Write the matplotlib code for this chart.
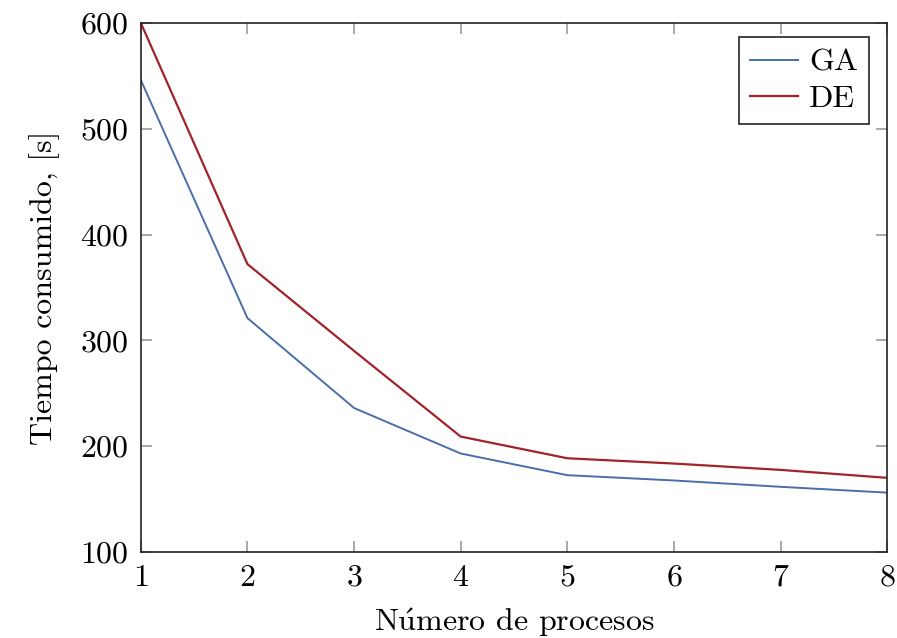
import matplotlib
matplotlib.use('Agg')
import matplotlib.pyplot as plt

procesos = [1, 2, 3, 4, 5, 6, 7, 8]
tiempo_ga = [546, 321, 236, 193, 172.5, 167.5, 161.5, 156]
tiempo_de = [600, 372, 290, 209, 188.5, 183.5, 177.5, 170]

plt.rcParams['font.family'] = ['cmr10', 'DejaVu Serif']
plt.rcParams['axes.formatter.use_mathtext'] = True
plt.rcParams['mathtext.fontset'] = 'cm'

fig = plt.figure(figsize=(8.97, 6.38), dpi=100)
ax = fig.add_axes([0.157, 0.135, 0.832, 0.829])

ax.plot(procesos, tiempo_ga, color='#4a6fa8', lw=1.4, label='GA')
ax.plot(procesos, tiempo_de, color='#a0242a', lw=1.6, label='DE')

ax.set_xlim(1, 8)
ax.set_ylim(100, 600)
ax.set_xticks(procesos)
ax.set_yticks([100, 200, 300, 400, 500, 600])
ax.tick_params(direction='in', length=8, width=1.2, color='#9a9a9a',
               top=True, right=True, labelsize=23, pad=9)
for s in ax.spines.values():
    s.set_linewidth(1.2)
    s.set_color('#222222')

ax.set_xlabel(r'N$\mathrm{\acute{u}}$mero de procesos', fontsize=23, labelpad=10)
ax.set_ylabel('Tiempo consumido, [s]', fontsize=23, labelpad=14)

leg = ax.legend(loc='upper right', bbox_to_anchor=(0.976, 0.973), fontsize=23,
                fancybox=False, framealpha=1, edgecolor='#222222',
                handlelength=1.5, handletextpad=0.35, borderpad=0.35,
                labelspacing=0.25, borderaxespad=0)
leg.get_frame().set_linewidth(1.2)

fig.savefig('out.png', dpi=100)
